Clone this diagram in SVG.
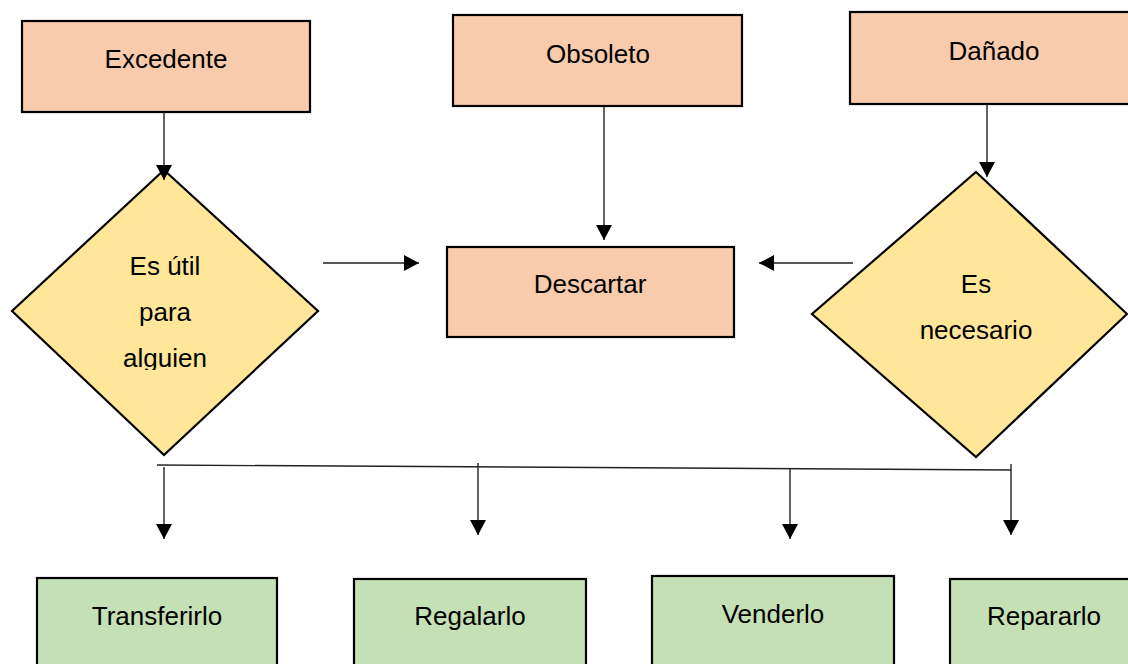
<svg xmlns="http://www.w3.org/2000/svg" width="1128" height="664" viewBox="0 0 1128 664">
<defs>
<style>
.box{stroke:#000;stroke-width:2.2}
.peach{fill:#F8CBAD}
.yellow{fill:#FFE699}
.green{fill:#C5E0B4}
.t{font-family:"Liberation Sans",Arial,sans-serif;font-size:26px;fill:#000;text-anchor:middle}
.c{stroke:#222;stroke-width:1.4;fill:none}
.ca{stroke:#222;stroke-width:1.4;fill:none;marker-end:url(#ah)}
</style>
<marker id="ah" markerUnits="userSpaceOnUse" markerWidth="17" markerHeight="17" refX="15" refY="8" orient="auto" viewBox="0 0 17 17">
<path d="M0,0 L15,8 L0,16 z" fill="#000"/>
</marker>
<clipPath id="clipAlg"><rect x="0" y="0" width="400" height="370"/></clipPath>
</defs>
<rect width="1128" height="664" fill="#fff"/>

<g id="excedente">
<rect class="box peach" x="22" y="21" width="288" height="91"/>
<text class="t" x="166" y="68">Excedente</text>
</g>
<g id="obsoleto">
<rect class="box peach" x="453" y="15" width="289" height="91"/>
<text class="t" x="598" y="63">Obsoleto</text>
</g>
<g id="danado">
<rect class="box peach" x="850" y="12" width="285" height="92"/>
<text class="t" x="994" y="60">Dañado</text>
</g>
<g id="descartar">
<rect class="box peach" x="447" y="247" width="287" height="90"/>
<text class="t" x="590" y="293">Descartar</text>
</g>
<g id="es-util">
<polygon class="box yellow" points="164,170 318,311 164,455 12,311"/>
<g clip-path="url(#clipAlg)">
<text class="t" x="165" y="275">Es útil</text>
<text class="t" x="165" y="321">para</text>
<text class="t" x="165" y="367">alguien</text>
</g>
</g>
<g id="es-necesario">
<polygon class="box yellow" points="976,172 1127,314 976,457 812,314"/>
<text class="t" x="976" y="293">Es</text>
<text class="t" x="976" y="339">necesario</text>
</g>
<g id="transferirlo">
<rect class="box green" x="37" y="578" width="240" height="100"/>
<text class="t" x="157" y="625">Transferirlo</text>
</g>
<g id="regalarlo">
<rect class="box green" x="354" y="579" width="232" height="100"/>
<text class="t" x="470" y="625">Regalarlo</text>
</g>
<g id="venderlo">
<rect class="box green" x="652" y="576" width="242" height="100"/>
<text class="t" x="773" y="623">Venderlo</text>
</g>
<g id="repararlo">
<rect class="box green" x="950" y="579" width="190" height="100"/>
<text class="t" x="1044" y="625">Repararlo</text>
</g>

<g id="connectors">
<line class="ca" x1="164" y1="112" x2="164" y2="180"/>
<line class="ca" x1="604" y1="107" x2="604" y2="240"/>
<line class="ca" x1="987" y1="104" x2="987" y2="177"/>
<line class="ca" x1="323" y1="263" x2="419" y2="263"/>
<line class="ca" x1="853" y1="263" x2="759" y2="263"/>
<line class="c" x1="157" y1="465" x2="1011" y2="470"/>
<line class="ca" x1="164" y1="467" x2="164" y2="539"/>
<line class="ca" x1="478" y1="463" x2="478" y2="535"/>
<line class="ca" x1="790" y1="469" x2="790" y2="539"/>
<line class="ca" x1="1011" y1="464" x2="1011" y2="535"/>
</g>
</svg>
